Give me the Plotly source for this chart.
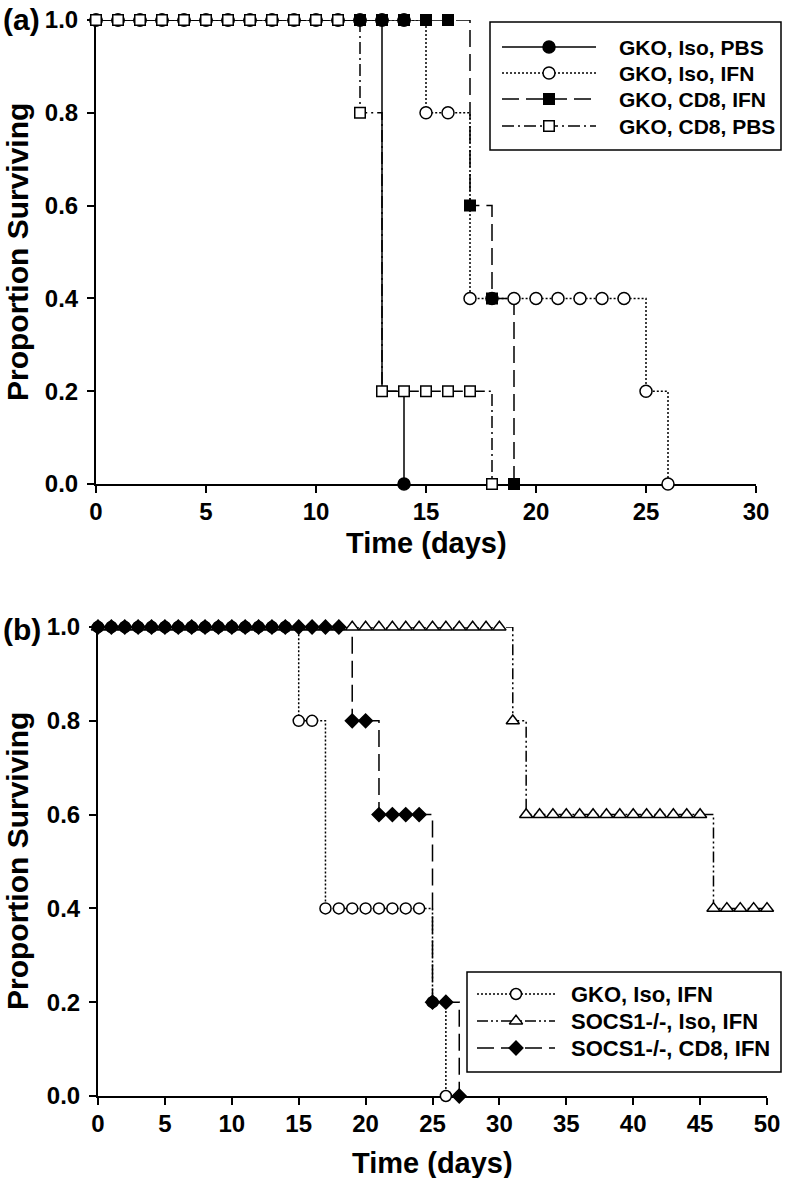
import plotly.graph_objects as go

W, H = 786, 1178
FONT = "Liberation Sans, Arial, Helvetica, sans-serif"

# ---------------- Panel (a) data ----------------
a_x_ticks = [0, 5, 10, 15, 20, 25, 30]
a_y_ticks = [0.0, 0.2, 0.4, 0.6, 0.8, 1.0]

# step curves (event day, survival after event)
a_iso_pbs_t = [0, 13, 14]
a_iso_pbs_s = [1.0, 0.2, 0.0]
a_iso_ifn_t = [0, 15, 17, 25, 26]
a_iso_ifn_s = [1.0, 0.8, 0.4, 0.2, 0.0]
a_cd8_ifn_t = [0, 17, 18, 19]
a_cd8_ifn_s = [1.0, 0.6, 0.4, 0.0]
a_cd8_pbs_t = [0, 12, 13, 18]
a_cd8_pbs_s = [1.0, 0.8, 0.2, 0.0]

# symbols (day, proportion)
a_iso_pbs_mx = [0, 1, 2, 3, 4, 5, 6, 7, 8, 9, 10, 11, 12, 13, 14, 14]
a_iso_pbs_my = [1.0, 1.0, 1.0, 1.0, 1.0, 1.0, 1.0, 1.0, 1.0, 1.0, 1.0, 1.0, 1.0, 1.0, 1.0, 0.0]
a_iso_ifn_mx = [0, 1, 2, 3, 4, 5, 6, 7, 8, 9, 10, 11, 12, 13, 14, 15, 16, 17, 18, 19, 20, 21, 22, 23, 24, 25, 26]
a_iso_ifn_my = [1.0, 1.0, 1.0, 1.0, 1.0, 1.0, 1.0, 1.0, 1.0, 1.0, 1.0, 1.0, 1.0, 1.0, 1.0,
                0.8, 0.8, 0.4, 0.4, 0.4, 0.4, 0.4, 0.4, 0.4, 0.4, 0.2, 0.0]
a_cd8_ifn_mx = [0, 1, 2, 3, 4, 5, 6, 7, 8, 9, 10, 11, 12, 13, 14, 15, 16, 17, 18, 19]
a_cd8_ifn_my = [1.0, 1.0, 1.0, 1.0, 1.0, 1.0, 1.0, 1.0, 1.0, 1.0, 1.0, 1.0, 1.0, 1.0, 1.0, 1.0, 1.0,
                0.6, 0.4, 0.0]
a_cd8_pbs_mx = [0, 1, 2, 3, 4, 5, 6, 7, 8, 9, 10, 11, 12, 13, 14, 15, 16, 17, 18]
a_cd8_pbs_my = [1.0, 1.0, 1.0, 1.0, 1.0, 1.0, 1.0, 1.0, 1.0, 1.0, 1.0, 1.0,
                0.8, 0.2, 0.2, 0.2, 0.2, 0.2, 0.0]

a_names = ["GKO, Iso, PBS", "GKO, Iso, IFN", "GKO, CD8, IFN", "GKO, CD8, PBS"]

# ---------------- Panel (b) data ----------------
b_x_ticks = [0, 5, 10, 15, 20, 25, 30, 35, 40, 45, 50]
b_y_ticks = [0.0, 0.2, 0.4, 0.6, 0.8, 1.0]

b_iso_ifn_t = [0, 15, 17, 25, 26]
b_iso_ifn_s = [1.0, 0.8, 0.4, 0.2, 0.0]
b_socs_iso_t = [0, 31, 32, 46, 50]
b_socs_iso_s = [1.0, 0.8, 0.6, 0.4, 0.4]
b_socs_cd8_t = [0, 19, 21, 25, 27]
b_socs_cd8_s = [1.0, 0.8, 0.6, 0.2, 0.0]

b_iso_ifn_mx = [0, 1, 2, 3, 4, 5, 6, 7, 8, 9, 10, 11, 12, 13, 14, 15, 16, 17, 18, 19, 20, 21, 22, 23, 24, 25, 26]
b_iso_ifn_my = [1.0, 1.0, 1.0, 1.0, 1.0, 1.0, 1.0, 1.0, 1.0, 1.0, 1.0, 1.0, 1.0, 1.0, 1.0,
                0.8, 0.8, 0.4, 0.4, 0.4, 0.4, 0.4, 0.4, 0.4, 0.4, 0.2, 0.0]
b_socs_iso_mx = [0, 1, 2, 3, 4, 5, 6, 7, 8, 9, 10, 11, 12, 13, 14, 15, 16, 17, 18, 19, 20, 21, 22, 23, 24,
                 25, 26, 27, 28, 29, 30, 31, 32, 33, 34, 35, 36, 37, 38, 39, 40, 41, 42, 43, 44, 45,
                 46, 47, 48, 49, 50]
b_socs_iso_my = [1.0, 1.0, 1.0, 1.0, 1.0, 1.0, 1.0, 1.0, 1.0, 1.0, 1.0, 1.0, 1.0, 1.0, 1.0, 1.0,
                 1.0, 1.0, 1.0, 1.0, 1.0, 1.0, 1.0, 1.0, 1.0, 1.0, 1.0, 1.0, 1.0, 1.0, 1.0,
                 0.8, 0.6, 0.6, 0.6, 0.6, 0.6, 0.6, 0.6, 0.6, 0.6, 0.6, 0.6, 0.6, 0.6, 0.6,
                 0.4, 0.4, 0.4, 0.4, 0.4]
b_socs_cd8_mx = [0, 1, 2, 3, 4, 5, 6, 7, 8, 9, 10, 11, 12, 13, 14, 15, 16, 17, 18, 19, 20, 21, 22, 23, 24,
                 25, 26, 27]
b_socs_cd8_my = [1.0, 1.0, 1.0, 1.0, 1.0, 1.0, 1.0, 1.0, 1.0, 1.0, 1.0, 1.0, 1.0, 1.0, 1.0, 1.0,
                 1.0, 1.0, 1.0, 0.8, 0.8, 0.6, 0.6, 0.6, 0.6, 0.2, 0.2, 0.0]

b_names = ["GKO, Iso, IFN", "SOCS1-/-, Iso, IFN", "SOCS1-/-, CD8, IFN"]

# ---------------- styles ----------------
SOLID = "solid"
DOT = "2px,2px"
LONGDASH = "17px,7px"
DASHDOT = "12px,4px,2px,4px"
DASHDOTDOT = "11px,3px,2px,3px,2px,3px"
LW = 1.5

def px_x(p):
    return p / W

def px_y(p):
    return 1 - p / H

fig = go.Figure()

def step(t, s, dash, xa, ya):
    fig.add_trace(go.Scatter(x=t, y=s, mode="lines", line=dict(color="black", width=LW, dash=dash, shape="hv"),
                             xaxis=xa, yaxis=ya, showlegend=False, hoverinfo="skip", cliponaxis=False))

def marks(x, y, symbol, fill, size, xa, ya):
    fig.add_trace(go.Scatter(x=x, y=y, mode="markers",
                             marker=dict(symbol=symbol, size=size, color=fill, line=dict(color="black", width=1.5)),
                             xaxis=xa, yaxis=ya, showlegend=False, cliponaxis=False))

CIRC_A, SQ_A = 12, 10.5
CIRC_B, TRI_B, DIA_B = 11, 11.5, 10.5

# Panel (a) lines
step(a_iso_ifn_t, a_iso_ifn_s, DOT, "x", "y")
step(a_cd8_ifn_t, a_cd8_ifn_s, LONGDASH, "x", "y")
step(a_cd8_pbs_t, a_cd8_pbs_s, DASHDOT, "x", "y")
step(a_iso_pbs_t, a_iso_pbs_s, SOLID, "x", "y")
# Panel (a) symbols
marks(a_iso_ifn_mx, a_iso_ifn_my, "circle", "white", CIRC_A, "x", "y")
marks(a_cd8_ifn_mx, a_cd8_ifn_my, "square", "black", SQ_A, "x", "y")
marks(a_iso_pbs_mx, a_iso_pbs_my, "circle", "black", CIRC_A, "x", "y")
marks(a_cd8_pbs_mx, a_cd8_pbs_my, "square", "white", SQ_A, "x", "y")

# Panel (b) lines
step(b_iso_ifn_t, b_iso_ifn_s, DOT, "x2", "y2")
step(b_socs_iso_t, b_socs_iso_s, DASHDOTDOT, "x2", "y2")
step(b_socs_cd8_t, b_socs_cd8_s, LONGDASH, "x2", "y2")
# Panel (b) symbols
marks(b_iso_ifn_mx, b_iso_ifn_my, "circle", "white", CIRC_B, "x2", "y2")
marks(b_socs_iso_mx, b_socs_iso_my, "triangle-up", "white", TRI_B, "x2", "y2")
marks(b_socs_cd8_mx, b_socs_cd8_my, "diamond", "black", DIA_B, "x2", "y2")

# ---------------- Legends (drawn in pixel coordinates on an overlay axis) ----------------
a_leg_rows = [47, 73, 99, 126]
a_leg_styles = [(SOLID, "circle", "black", CIRC_A), (DOT, "circle", "white", CIRC_A),
                (LONGDASH, "square", "black", SQ_A), (DASHDOT, "square", "white", SQ_A)]
b_leg_rows = [994, 1021, 1048]
b_leg_styles = [(DOT, "circle", "white", CIRC_B), (DASHDOTDOT, "triangle-up", "white", TRI_B),
                (LONGDASH, "diamond", "black", DIA_B)]

annotations = []
shapes = []

def legend(rows, styles, names, x0, x1, xm, xt, box, fsize):
    shapes.append(dict(type="rect", xref="x3", yref="y3", x0=box[0], y0=box[1], x1=box[2], y1=box[3],
                       line=dict(color="black", width=1.5), fillcolor="white", layer="below"))
    for r, (dash, sym, fill, size), nm in zip(rows, styles, names):
        fig.add_trace(go.Scatter(x=[x0, x1], y=[r, r], mode="lines", line=dict(color="black", width=LW, dash=dash),
                                 xaxis="x3", yaxis="y3", showlegend=False, hoverinfo="skip"))
        fig.add_trace(go.Scatter(x=[xm], y=[r], mode="markers",
                                 marker=dict(symbol=sym, size=size, color=fill, line=dict(color="black", width=1.5)),
                                 xaxis="x3", yaxis="y3", showlegend=False, hoverinfo="skip"))
        annotations.append(dict(text=nm, xref="x3", yref="y3", x=xt, y=r, xanchor="left", yanchor="middle",
                                showarrow=False, font=dict(family=FONT, size=fsize, color="black", weight="bold")))

legend(a_leg_rows, a_leg_styles, a_names, 502, 596, 549, 617, (490, 22, 781, 150), 21)
legend(b_leg_rows, b_leg_styles, b_names, 477, 555, 516, 569, (467, 972, 781, 1072), 22)

# ---------------- Text ----------------
def txt(s, x, y, size, angle=0, xanchor="center"):
    annotations.append(dict(text=s, xref="x3", yref="y3", x=x, y=y, xanchor=xanchor, yanchor="middle",
                            showarrow=False, textangle=angle,
                            font=dict(family=FONT, size=size, color="black", weight="bold")))

txt("(a)", 1, 19, 30, xanchor="left")
txt("(b)", 1, 629, 30, xanchor="left")
txt("Proportion Surviving", 17, 252, 30, angle=-90)
txt("Proportion Surviving", 17, 861, 30, angle=-90)
txt("Time (days)", 426, 543, 29)
txt("Time (days)", 432, 1163, 29)

tickfont = dict(family=FONT, size=24, color="black", weight="bold")
axis_common = dict(showline=True, linewidth=2, linecolor="black", ticks="outside", ticklen=7, tickwidth=2,
                   tickcolor="black", showgrid=False, zeroline=False, tickfont=tickfont, layer="below traces",
                   fixedrange=True, automargin=False)
ydict = dict(ticklabelstandoff=4)
xdict = dict(ticklabelstandoff=-2)

fig.update_layout(
    template="none",
    width=W, height=H, autosize=False,
    margin=dict(l=0, r=0, t=0, b=0, pad=0, autoexpand=False),
    paper_bgcolor="white", plot_bgcolor="rgba(0,0,0,0)",
    showlegend=False,
    xaxis=dict(domain=[px_x(96), px_x(756)], range=[0, 30], tickvals=a_x_ticks, anchor="y", **xdict, **axis_common),
    yaxis=dict(domain=[px_y(484), px_y(20)], range=[0, 1], tickvals=a_y_ticks, tickformat=".1f", anchor="x",
               **ydict, **axis_common),
    xaxis2=dict(domain=[px_x(98), px_x(767)], range=[0, 50], tickvals=b_x_ticks, anchor="y2", **xdict,
                **axis_common),
    yaxis2=dict(domain=[px_y(1096), px_y(627)], range=[0, 1], tickvals=b_y_ticks, tickformat=".1f", anchor="x2",
                **ydict, **axis_common),
    xaxis3=dict(domain=[0, 1], range=[0, W], visible=False, anchor="y3", fixedrange=True, automargin=False),
    yaxis3=dict(domain=[0, 1], range=[H, 0], visible=False, anchor="x3", fixedrange=True, automargin=False),
    annotations=annotations,
    shapes=shapes,
)

fig.write_html("out.html", config={"displayModeBar": False, "staticPlot": True},
               post_script="document.body.style.margin='0';document.body.style.padding='0';"
                           "document.documentElement.style.overflow='hidden';")
